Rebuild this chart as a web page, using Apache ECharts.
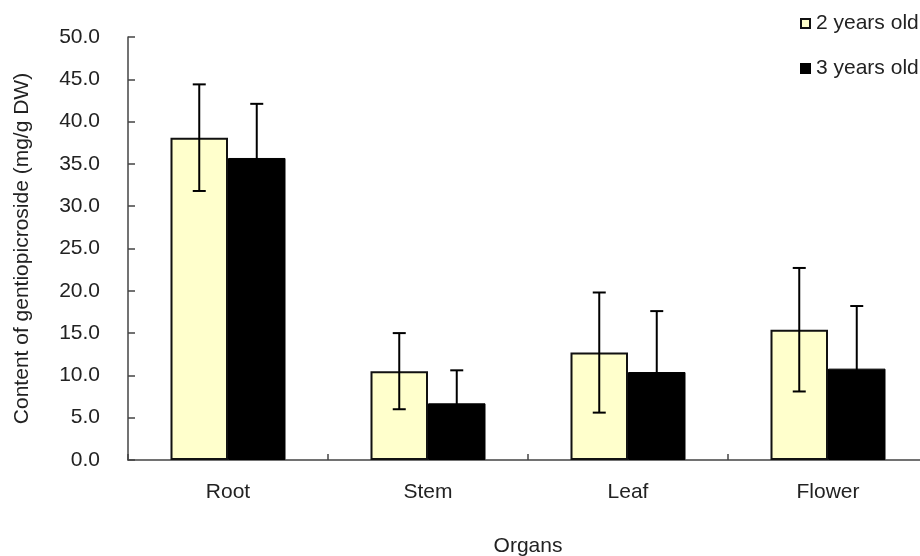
<!DOCTYPE html>
<html>
<head>
<meta charset="utf-8">
<script src="https://cdn.jsdelivr.net/npm/echarts@6/dist/echarts.min.js"></script>
<style>html,body{margin:0;padding:0;background:#fff;}#c{width:920px;height:556px;}</style>
</head>
<body>
<div id="c"></div>
<script>
var categories = ['Root', 'Stem', 'Leaf', 'Flower'];
var seriesNames = ['2 years old', '3 years old'];
var mean2 = [38.1, 10.5, 12.7, 15.4];
var sd2 = [6.3, 4.5, 7.1, 7.3];
var mean3 = [35.7, 6.7, 10.4, 10.8];
var sd3 = [6.4, 3.9, 7.2, 7.4];
var yTicks = [0, 50, 5];

var FONT = 'Liberation Sans, Arial, sans-serif';
var TXT = '#222';
var FS = 21;
var BAR_FRAC = 0.2875;

function errData(m, s) {
  return m.map(function (v, i) { return [i, v - s[i], v + s[i]]; });
}
function errSeries(data, side) {
  return {
    type: 'custom',
    z: 10,
    silent: true,
    data: data,
    renderItem: function (params, api) {
      var idx = api.value(0);
      var lo = api.coord([idx, api.value(1)]);
      var hi = api.coord([idx, api.value(2)]);
      var catW = api.size([1, 0])[0];
      var x = lo[0] + side * catW * BAR_FRAC / 2;
      var cap = 6.5;
      var st = { stroke: '#000', lineWidth: 2 };
      return {
        type: 'group',
        children: [
          { type: 'line', shape: { x1: x, y1: lo[1], x2: x, y2: hi[1] }, style: st },
          { type: 'line', shape: { x1: x - cap, y1: hi[1], x2: x + cap, y2: hi[1] }, style: st },
          { type: 'line', shape: { x1: x - cap, y1: lo[1], x2: x + cap, y2: lo[1] }, style: st }
        ]
      };
    }
  };
}

var chart = echarts.init(document.getElementById('c'), null, { renderer: 'canvas' });
chart.setOption({
  animation: false,
  backgroundColor: '#fff',
  textStyle: { fontFamily: FONT },
  legend: {
    orient: 'vertical',
    left: 795,
    top: 8,
    itemGap: 24,
    itemWidth: 9,
    itemHeight: 9,
    icon: 'rect',
    selectedMode: false,
    textStyle: { fontFamily: FONT, fontSize: FS, color: TXT, padding: [0, 0, 0, 1] },
    data: seriesNames
  },
  grid: { left: 128, top: 37, width: 800, height: 423, containLabel: false, outerBoundsMode: 'none' },
  xAxis: {
    type: 'category',
    data: categories,
    name: 'Organs',
    nameLocation: 'middle',
    nameGap: 76,
    nameTextStyle: { fontFamily: FONT, fontSize: FS, color: TXT },
    axisLine: { lineStyle: { color: '#444', width: 1.5 } },
    axisTick: { show: true, inside: true, length: 6, lineStyle: { color: '#444', width: 1.5 } },
    axisLabel: { fontFamily: FONT, fontSize: FS, color: TXT, margin: 22 }
  },
  yAxis: {
    type: 'value',
    min: yTicks[0],
    max: yTicks[1],
    interval: yTicks[2],
    name: 'Content of gentiopicroside (mg/g DW)',
    nameLocation: 'middle',
    nameGap: 95,
    nameTextStyle: { fontFamily: FONT, fontSize: FS, color: TXT },
    axisLine: { show: true, lineStyle: { color: '#444', width: 1.5 } },
    axisTick: { show: true, inside: true, length: 7, lineStyle: { color: '#444', width: 1.5 } },
    splitLine: { show: false },
    axisLabel: {
      fontFamily: FONT, fontSize: FS, color: TXT, margin: 28,
      formatter: function (v) { return v.toFixed(1); }
    }
  },
  series: [
    {
      name: seriesNames[0], type: 'bar', data: mean2,
      barWidth: (BAR_FRAC * 100) + '%', barGap: '0%',
      itemStyle: { color: '#FFFFCC', borderColor: '#111', borderWidth: 2 }
    },
    {
      name: seriesNames[1], type: 'bar', data: mean3,
      barWidth: (BAR_FRAC * 100) + '%', barGap: '0%',
      itemStyle: { color: '#000', borderColor: '#000', borderWidth: 1 }
    },
    errSeries(errData(mean2, sd2), -1),
    errSeries(errData(mean3, sd3), 1)
  ]
});
</script>
</body>
</html>
